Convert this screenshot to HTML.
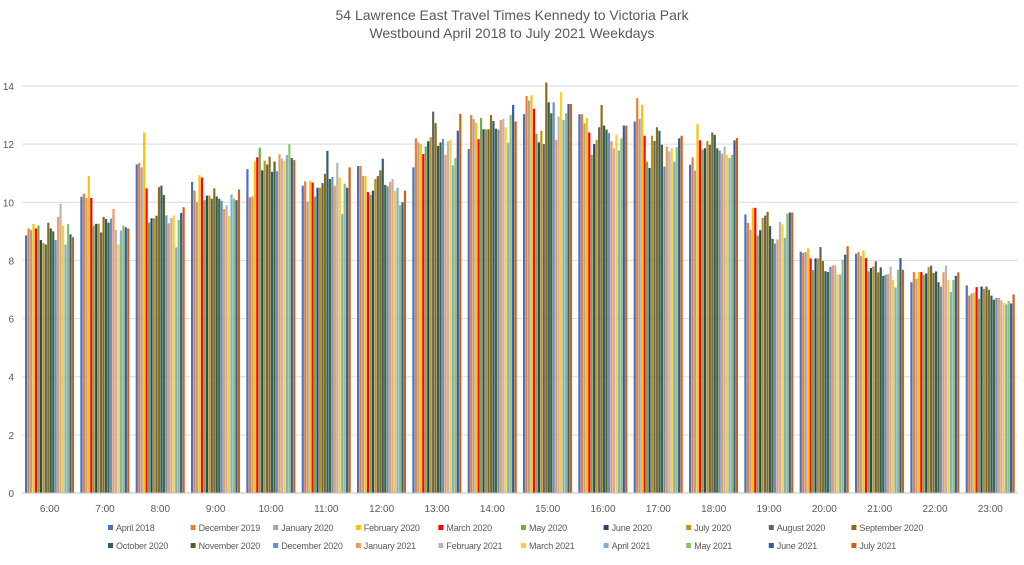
<!DOCTYPE html>
<html><head><meta charset="utf-8"><style>
body{margin:0;background:#fff;font-family:"Liberation Sans",sans-serif;}
svg text{font-family:"Liberation Sans",sans-serif;}
</style></head><body>
<svg id="chart" width="1024" height="560" viewBox="0 0 1024 560">
<text x="512" y="20" text-anchor="middle" font-size="14" fill="#595959">54 Lawrence East Travel Times Kennedy to Victoria Park</text>
<text x="512" y="38" text-anchor="middle" font-size="14" fill="#595959">Westbound April 2018 to July 2021 Weekdays</text>
<g id="grid"></g><g id="bars"></g><g id="axes"></g><g id="legend"></g>
</svg>
<script>
const hours = ["6:00","7:00","8:00","9:00","10:00","11:00","12:00","13:00","14:00","15:00","16:00","17:00","18:00","19:00","20:00","21:00","22:00","23:00"];
const yTicks = [0,2,4,6,8,10,12,14];
const seriesNames = ["April 2018","December 2019","January 2020","February 2020","March 2020","May 2020","June 2020","July 2020","August 2020","September 2020","October 2020","November 2020","December 2020","January 2021","February 2021","March 2021","April 2021","May 2021","June 2021","July 2021"];
const seriesColors = ["#4472C4","#ED7D31","#A5A5A5","#FFC000","#FF0000","#70AD47","#264478","#B8960C","#636363","#8B6E0F","#2F5B75","#43682B","#698ED0","#F1975A","#B7B7B7","#FFCD33","#7CAFDD","#8CC168","#335AA1","#D26012"];
const apr2018 = [8.86,10.19,11.3,10.7,11.14,10.57,11.25,11.2,11.83,13.03,13.03,12.78,11.29,9.58,8.3,8.23,7.25,7.14];
const dec2019 = [9.1,10.3,11.35,10.4,10.17,10.72,11.25,12.2,13.0,13.66,13.03,13.58,11.55,9.29,8.26,8.29,7.6,6.79];
const jan2020 = [9.05,10.15,11.2,10.0,10.2,10.02,10.9,12.06,12.86,13.5,12.72,12.87,11.09,9.06,8.29,8.16,7.37,6.86];
const feb2020 = [9.25,10.9,12.4,10.93,11.4,10.74,10.9,12.0,12.74,13.68,12.9,13.35,12.69,9.81,8.41,8.34,7.6,6.9];
const mar2020 = [9.1,10.15,10.48,10.85,11.55,10.68,10.35,11.66,12.17,13.22,12.4,12.29,12.13,9.81,8.07,8.08,7.6,7.08];
const may2020 = [9.2,9.2,9.3,10.07,11.88,10.2,10.25,11.92,12.9,12.35,11.63,11.4,11.81,8.86,7.67,7.62,7.51,6.68];
const jun2020 = [8.7,9.26,9.45,10.23,11.1,10.5,10.4,12.1,12.51,12.06,12.0,11.18,11.86,9.04,8.07,7.74,7.55,7.1];
const jul2020 = [8.6,9.26,9.45,10.23,11.43,10.5,10.8,12.24,12.51,12.46,12.15,12.29,12.11,9.46,8.07,7.79,7.77,7.02];
const aug2020 = [8.55,8.96,9.54,10.12,11.3,10.66,10.9,13.12,12.51,12.0,12.58,12.11,11.98,9.54,8.46,7.97,7.82,7.1];
const sep2020 = [9.3,9.5,10.52,10.48,11.57,10.98,11.1,12.72,13.0,14.12,13.35,12.58,12.4,9.67,7.98,7.59,7.57,6.99];
const oct2020 = [9.1,9.43,10.57,10.2,11.05,11.77,11.5,11.94,12.8,13.44,12.64,12.46,12.32,9.18,7.63,7.76,7.62,6.79];
const nov2020 = [9.0,9.3,10.25,10.12,11.4,10.8,10.6,12.06,12.53,13.06,12.5,11.98,11.86,8.74,7.6,7.47,7.25,6.65];
const dec2020 = [8.7,9.44,9.55,10.05,11.07,10.87,10.55,12.18,12.5,13.44,12.38,11.23,11.78,8.58,7.78,7.51,7.1,6.71];
const jan2021 = [9.5,9.77,9.28,9.77,11.65,10.57,10.7,11.63,12.83,12.15,12.1,11.92,11.67,8.72,7.83,7.53,7.59,6.71];
const feb2021 = [9.95,9.05,9.46,9.9,11.5,11.35,10.8,12.1,12.87,12.95,11.86,11.75,11.92,9.33,7.83,7.79,7.83,6.63];
const mar2021 = [9.2,8.55,9.55,9.53,11.43,10.85,10.4,12.15,12.58,13.8,12.32,11.86,11.63,9.24,7.52,7.33,7.33,6.54];
const apr2021 = [8.55,9.03,8.45,10.27,11.63,9.6,10.5,11.27,12.05,12.83,11.78,11.4,11.52,8.78,7.52,7.07,6.91,6.49];
const may2021 = [9.25,9.2,9.4,10.13,12.0,10.64,9.9,11.52,13.0,13.06,12.2,11.9,11.63,9.61,8.03,7.68,7.33,6.6];
const jun2021 = [8.9,9.14,9.63,10.07,11.52,10.5,10.0,12.46,13.35,13.38,12.64,12.2,12.13,9.65,8.2,8.08,7.47,6.52];
const jul2021 = [8.8,9.1,9.83,10.44,11.45,11.2,10.4,13.04,12.78,13.38,12.64,12.29,12.21,9.65,8.49,7.68,7.59,6.83];
const seriesValues = [apr2018,dec2019,jan2020,feb2020,mar2020,may2020,jun2020,jul2020,aug2020,sep2020,oct2020,nov2020,dec2020,jan2021,feb2021,mar2021,apr2021,may2021,jun2021,jul2021];

const NS="http://www.w3.org/2000/svg";
const X0=22,X1=1018,Y0=493,YTOP=86,YMAX=14;
const catW=(X1-X0)/hours.length;
const yScale=v=>Y0-(v/YMAX)*(Y0-YTOP);
const xCat=i=>X0+i*catW;
function mk(tag,attrs,parent){const e=document.createElementNS(NS,tag);for(const k in attrs)e.setAttribute(k,attrs[k]);parent.appendChild(e);return e;}
const grid=document.getElementById('grid'),bars=document.getElementById('bars'),axes=document.getElementById('axes'),legend=document.getElementById('legend');
yTicks.forEach(t=>{
  if(t>0){const l=mk('line',{x1:X0,x2:X1,y1:yScale(t),y2:yScale(t),stroke:'#d9d9d9','stroke-width':1},grid);
  
  }
  const tx=mk('text',{x:14,y:yScale(t)+4,'text-anchor':'end','font-size':10,fill:'#595959'},axes);
  tx.textContent=t;
  
  
});
const ax=mk('line',{x1:X0,x2:X1,y1:Y0,y2:Y0,stroke:'#bfbfbf','stroke-width':1},axes);


const nS=seriesValues.length,pad=3,bw=(catW-2*pad)/nS;
hours.forEach((h,i)=>{
  seriesValues.forEach((arr,s)=>{
    const v=arr[i],y=yScale(v);
    const r=mk('rect',{x:xCat(i)+pad+s*bw,y:y,width:bw*0.88,height:Y0-y,fill:seriesColors[s]},bars);
    
    
  });
  const tx=mk('text',{x:xCat(i)+catW/2,y:512,'text-anchor':'middle','font-size':10,fill:'#595959'},axes);
  tx.textContent=h;
  
  
});
seriesNames.forEach((n,s)=>{
  const col=s%10,row=Math.floor(s/10);
  const lx=108+col*82.6,ly=531+row*18;
  const g=mk('g',{},legend);
  
  
  mk('rect',{x:lx,y:ly-6,width:5,height:5,fill:seriesColors[s]},g);
  const t=mk('text',{x:lx+8,y:ly,'font-size':9,fill:'#595959','letter-spacing':'-0.2'},g);
  t.textContent=n;
});
</script>
</body></html>
